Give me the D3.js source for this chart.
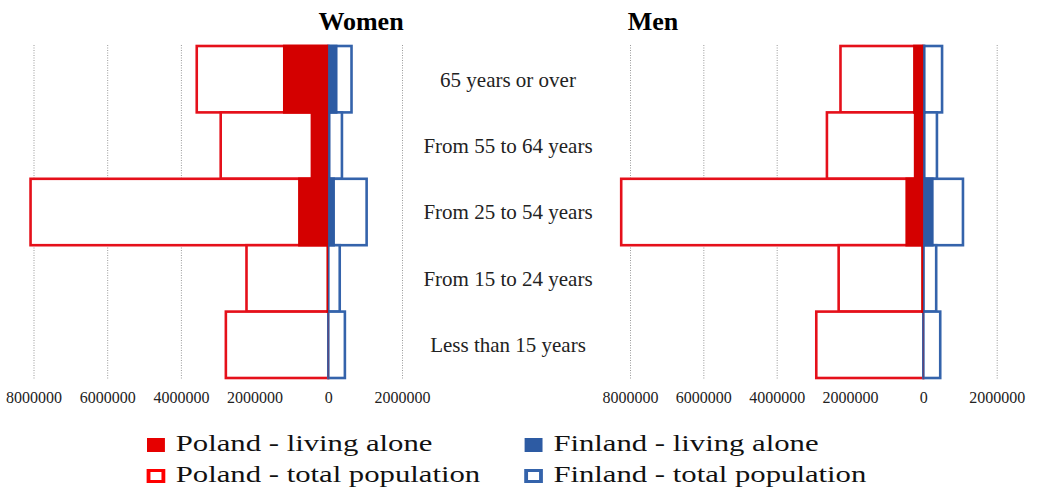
<!DOCTYPE html>
<html>
<head>
<meta charset="utf-8">
<script src="https://cdn.jsdelivr.net/npm/d3@7"></script>
<style>
  body { margin: 0; background: #fff; }
  text { font-family: "Liberation Serif", "Times New Roman", serif; }
</style>
</head>
<body>
<div class="chart"></div>
<script>
const categories = ["65 years or over", "From 55 to 64 years", "From 25 to 54 years", "From 15 to 24 years", "Less than 15 years"]

const womenPolandTotal = [3570000, 2920000, 8080000, 2220000, 2780000]
const womenPolandAlone = [1230000, 480000, 820000, 50000, 10000]
const womenFinlandTotal = [630000, 370000, 1040000, 310000, 450000]
const womenFinlandAlone = [250000, 60000, 180000, 20000, 5000]

const menPolandTotal = [2260000, 2630000, 8240000, 2310000, 2920000]
const menPolandAlone = [280000, 260000, 490000, 60000, 10000]
const menFinlandTotal = [510000, 370000, 1080000, 350000, 460000]
const menFinlandAlone = [60000, 60000, 280000, 30000, 5000]

const tickValues = [-8000000, -6000000, -4000000, -2000000, 0, 2000000]
const legendLabels = ["Poland - living alone", "Finland - living alone", "Poland - total population", "Finland - total population"]

const width = 1039
const height = 488
const plotTop = 46
const plotBottom = 378

const redLine = "#e5101a"
const redFill = "#d40000"
const blueLine = "#3463ab"
const blueFill = "#2d5ba3"

const svg = d3.select(".chart")
  .append("svg")
  .attr("width", width)
  .attr("height", height)

const yScale = d3.scaleBand()
  .domain(categories)
  .range([plotTop, plotBottom])
  .padding(0)

const panels = [
  {title: "Women", titleX: 361, range: [33.5, 402], polTotal: womenPolandTotal, polAlone: womenPolandAlone, finTotal: womenFinlandTotal, finAlone: womenFinlandAlone},
  {title: "Men", titleX: 653, range: [630, 996.7], polTotal: menPolandTotal, polAlone: menPolandAlone, finTotal: menFinlandTotal, finAlone: menFinlandAlone}
]

panels.forEach(p => {
  const xScale = d3.scaleLinear()
    .domain([-8000000, 2000000])
    .range(p.range)

  const g = svg.append("g")

  // dotted gridlines via the axis
  const grid = g.append("g")
    .attr("transform", `translate(0, ${plotTop - 1})`)
    .call(d3.axisBottom(xScale).tickValues(tickValues).tickSize(plotBottom - plotTop + 3).tickFormat(""))
  grid.select(".domain").remove()
  grid.selectAll("line")
    .attr("stroke", "#9a9a9a")
    .attr("stroke-dasharray", "1,1.5")

  const axis = g.append("g")
    .attr("transform", `translate(0, ${plotBottom + 6})`)
    .call(d3.axisBottom(xScale).tickValues(tickValues).tickSize(0).tickPadding(8).tickFormat(d => Math.abs(d)))
  axis.select(".domain").remove()
  axis.selectAll("text")
    .attr("font-family", "Liberation Serif, serif")
    .attr("font-size", "16px")
    .attr("fill", "#222")

  const rows = categories.map((c, i) => ({cat: c, polTotal: p.polTotal[i], polAlone: p.polAlone[i], finTotal: p.finTotal[i], finAlone: p.finAlone[i]}))

  g.selectAll(".pol-total")
    .data(rows)
    .enter()
    .append("rect")
    .attr("x", d => xScale(-d.polTotal))
    .attr("y", d => yScale(d.cat))
    .attr("width", d => xScale(0) - xScale(-d.polTotal))
    .attr("height", yScale.bandwidth())
    .attr("fill", "#fff")
    .attr("stroke", redLine)
    .attr("stroke-width", 2.6)

  g.selectAll(".fin-total")
    .data(rows)
    .enter()
    .append("rect")
    .attr("x", xScale(0))
    .attr("y", d => yScale(d.cat))
    .attr("width", d => xScale(d.finTotal) - xScale(0))
    .attr("height", yScale.bandwidth())
    .attr("fill", "#fff")
    .attr("stroke", blueLine)
    .attr("stroke-width", 2.6)

  g.selectAll(".pol-alone")
    .data(rows)
    .enter()
    .append("rect")
    .attr("x", d => xScale(-d.polAlone))
    .attr("y", d => yScale(d.cat) - 1.3)
    .attr("width", d => xScale(0) - xScale(-d.polAlone))
    .attr("height", yScale.bandwidth() + 2.6)
    .attr("fill", redFill)

  g.selectAll(".fin-alone")
    .data(rows)
    .enter()
    .append("rect")
    .attr("x", xScale(0))
    .attr("y", d => yScale(d.cat) - 1.3)
    .attr("width", d => xScale(d.finAlone) - xScale(0))
    .attr("height", yScale.bandwidth() + 2.6)
    .attr("fill", blueFill)

  svg.append("text")
    .text(p.title)
    .attr("x", p.titleX)
    .attr("y", 30)
    .attr("text-anchor", "middle")
    .attr("font-weight", "bold")
    .attr("font-size", "26px")
    .attr("fill", "#000")
})

// category labels between the panels
svg.append("g")
  .selectAll("text")
  .data(categories)
  .enter()
  .append("text")
  .text(d => d)
  .attr("x", 508)
  .attr("y", d => yScale(d) + yScale.bandwidth() / 2)
  .attr("dy", ".35em")
  .attr("text-anchor", "middle")
  .attr("font-size", "21px")
  .attr("fill", "#222")

// legend (text is stretched wide in the original)
const legend = svg.append("g")
  .attr("transform", "translate(147, 0) scale(1.28, 1)")

const legendItems = legendLabels.map((label, i) => ({
  label: label,
  col: i % 2,
  row: Math.floor(i / 2),
  color: i % 2 === 0 ? redFill : blueFill,
  line: i % 2 === 0 ? redLine : blueLine,
  filled: i < 2
}))

const item = legend.selectAll("g")
  .data(legendItems)
  .enter()
  .append("g")
  .attr("transform", d => `translate(${d.col * 295}, ${d.row * 31})`)

item.append("rect")
  .attr("x", d => d.filled ? 0 : 1.2)
  .attr("y", d => d.filled ? 438 : 439.5)
  .attr("width", d => d.filled ? 14 : 11.6)
  .attr("height", d => d.filled ? 14 : 11)
  .attr("fill", d => d.filled ? (d.col === 0 ? "#e60000" : d.color) : "#fff")
  .attr("stroke", d => d.filled ? "none" : (d.col === 0 ? "#ff0000" : d.line))
  .attr("stroke-width", 3)

item.append("text")
  .text(d => d.label)
  .attr("x", 22.5)
  .attr("y", 451.5)
  .attr("font-size", "24px")
  .attr("fill", "#111")
</script>
</body>
</html>
